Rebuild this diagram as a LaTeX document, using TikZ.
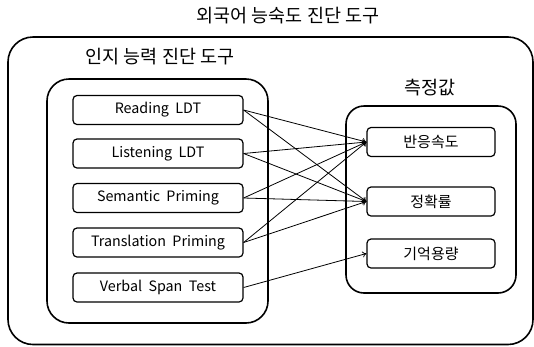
\documentclass[tikz,border=0pt]{standalone}
\usepackage{fontspec}
\setmainfont{Noto Sans CJK KR}
\usetikzlibrary{arrows.meta}
\begin{document}
\begin{tikzpicture}[x=1pt, y=-1pt,
        testbox/.style={draw, rounded corners=4pt, line width=1.2pt, minimum width=170pt, minimum height=29pt, inner sep=0pt, font=\fontsize{14.3}{16}\selectfont},
        valuebox/.style={testbox, minimum width=128pt, font=\fontsize{15}{17}\selectfont},
        group/.style={draw, rounded corners=20pt, line width=1.6pt},
        heading/.style={font=\fontsize{18.5}{21}\selectfont},
        link/.style={-{To[length=4pt, width=6pt]}, line width=0.8pt}]
        \useasboundingbox (0,0) rectangle (534,346);

        % frames
        \draw[group, rounded corners=25pt] (8,37) rectangle (533,344.5);
        \draw[group, rounded corners=22pt] (47,79) rectangle (268,323);
        \draw[group, rounded corners=18pt] (346,106) rectangle (516,293);

        % headings
        \node[heading] (tooltitle) at (288,16) {외국어 능숙도 진단 도구};
        \node[heading] (cogtitle) at (160,57) {인지 능력 진단 도구};
        \node[heading] (valtitle) at (430,88) {측정값};

        % tests
        \node[testbox] (reading) at (158,110) {Reading\ \ LDT};
        \node[testbox] (listening) at (158,153.5) {Listening\ \ LDT};
        \node[testbox] (semantic) at (158,198) {Semantic\ \ Priming};
        \node[testbox] (translation) at (158,242.5) {Translation\ \ Priming};
        \node[testbox] (verbal) at (158,287.5) {Verbal\ \ Span\ \ Test};

        % measured values
        \node[valuebox] (speed) at (431,142) {반응속도};
        \node[valuebox] (accuracy) at (431,201.5) {정확률};
        \node[valuebox] (memory) at (431,253.5) {기억용량};

        % connections
        \foreach \src in {reading, listening, semantic, translation} {
            \draw[link] (\src.east) -- (speed.west);
            \draw[link] (\src.east) -- (accuracy.west);
        }
        \draw[link] (verbal.east) -- (memory.west);
\end{tikzpicture}
\end{document}
